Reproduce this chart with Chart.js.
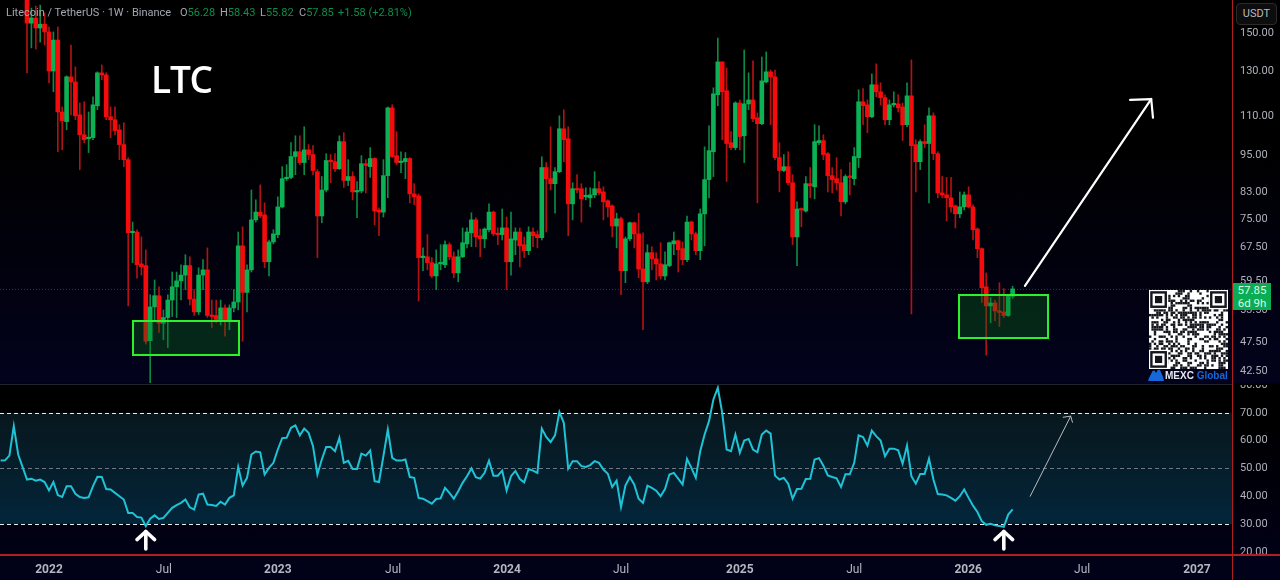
<!DOCTYPE html>
<html>
<head>
<meta charset="utf-8">
<title>LTC weekly</title>
<script src="https://cdn.jsdelivr.net/npm/chart.js@4"></script>
<style>
  html, body { margin: 0; padding: 0; background: #000; }
  #stage { position: relative; width: 1280px; height: 580px; overflow: hidden; font-family: Roboto, sans-serif;
    background: linear-gradient(#000 0, #000 25%, #02021c 66%, #000 66.3%, #000 72%, #01011a 100%); }
  canvas { position: absolute; left: 0; }
  #pricePane { top: 0; }
  #rsiPane { top: 385px; }
  .rule { position: absolute; background: #b01f1f; }
  #sep { position: absolute; left: 0; top: 384px; width: 1232px; height: 1px; background: #20242f; }
  .legend { position: absolute; top: 6px; font-size: 11px; line-height: 14px; color: #a3a7b0; white-space: pre; }
  .legend b { font-weight: 400; color: #0c8f4c; }
  #ltc { position: absolute; left: 151px; top: 55px; font: 600 37px "Open Sans", sans-serif; letter-spacing: -1.2px; color: #fff; line-height: 48px; }
  #unit { position: absolute; left: 1236px; top: 3px; width: 41px; height: 22px; box-sizing: border-box; border: 1px solid #2b2b2b; border-radius: 4px;
    background: #0d0d0d; color: #b8bbc2; font-size: 11px; line-height: 20px; text-align: center; }
  #badge { position: absolute; left: 1233px; top: 283px; width: 38px; height: 27px; background: #0bad54; color: #def7e8; font-size: 11.5px; line-height: 13px; text-align: center; padding-top: 1px; box-sizing: border-box; }
  #qr { left: 1149px; top: 290px; }
  #brand { position: absolute; left: 1165px; top: 369px; font: 700 10px/13px "Liberation Sans", sans-serif; color: #e6e8ee; white-space: pre; }
  #brand span { color: #1668d8; }
  #cloud { position: absolute; left: 1148px; top: 369px; }
</style>
</head>
<body>
<div id="stage">
  <canvas id="pricePane" width="1280" height="384"></canvas>
  <div id="sep"></div>
  <canvas id="rsiPane" width="1280" height="195"></canvas>
  <div class="rule" style="left:1232px;top:0;width:1px;height:580px"></div>
  <div class="rule" style="left:0;top:554px;width:1280px;height:2px"></div>
  <div class="legend" style="left:6px">Litecoin / TetherUS · 1W · Binance</div>
  <div class="legend" style="left:180px">O<b>56.28</b></div>
  <div class="legend" style="left:220px">H<b>58.43</b></div>
  <div class="legend" style="left:260px">L<b>55.82</b></div>
  <div class="legend" style="left:299px">C<b>57.85</b></div>
  <div class="legend" style="left:338px"><b>+1.58 (+2.81%)</b></div>
  <div id="ltc">LTC</div>
  <div id="unit">USDT</div>
  <div id="badge">57.85<br>6d 9h</div>
  <canvas id="qr" width="79" height="79"></canvas>
  <svg id="cloud" width="16" height="12" viewBox="0 0 16 12"><path d="M0 12 L1 9 L4.5 2 L6.5 1.5 L8 4 L10 0.5 L12 1 L15 8 L16 12 Z" fill="#1668d8"/></svg>
  <div id="brand">MEXC <span>Global</span></div>
</div>
<script>
// weekly candles, first entry is the first one visible at the top left
const openPrices = [
  176.0,155.6,158.6,152.8,155.0,150.6,130.2,146.1,111.8,107.8,
  127.4,125.0,110.6,102.7,101.2,101.6,114.4,129.3,128.3,109.8,
  108.6,104.6,99.0,93.6,71.3,71.5,63.5,63.1,47.7,54.1,
  56.4,50.9,52.0,55.5,58.3,59.6,60.9,63.1,55.7,53.1,
  60.9,62.1,52.4,52.4,51.6,53.9,51.4,53.9,55.1,67.9,
  57.1,62.1,74.8,77.0,76.2,64.0,68.9,70.8,78.5,87.2,
  87.6,94.7,96.4,92.6,97.1,95.4,89.5,75.9,83.6,93.3,
  92.9,90.5,100.1,86.6,87.9,83.0,83.3,92.2,91.2,94.0,
  77.6,77.0,88.2,113.5,95.0,92.6,92.9,94.0,82.4,81.8,
  65.0,65.2,63.8,60.7,63.5,63.3,68.2,65.2,61.4,65.2,
  68.4,71.3,74.8,70.5,69.7,72.1,77.0,71.0,70.8,72.6,
  64.0,69.4,71.5,68.2,66.7,71.5,70.8,70.0,90.9,87.2,
  85.6,89.5,105.0,101.2,79.4,84.0,84.0,81.5,81.2,82.1,
  84.0,83.0,80.3,78.8,73.1,75.1,61.9,69.7,74.0,71.0,
  62.3,59.4,66.2,64.7,63.5,60.7,63.1,68.4,69.2,67.2,
  64.5,74.2,71.0,66.7,76.5,86.9,96.4,119.2,134.7,121.0,
  99.7,97.9,115.6,102.3,115.2,116.9,109.4,107.0,125.0,129.8,
  127.4,94.3,89.9,91.2,85.9,70.2,77.9,77.3,85.6,84.6,
  99.7,100.5,95.7,88.2,87.2,85.9,80.0,87.9,87.2,94.3,
  116.1,114.8,109.8,123.7,120.5,117.9,108.6,114.8,115.2,113.9,
  106.6,118.7,99.0,92.9,100.1,99.4,110.2,95.7,82.7,82.1,
  81.2,78.8,76.5,78.5,82.1,78.5,72.3,67.2,58.3,54.3,
  54.9,53.3,53.1,52.4,56.28];
const highPrices = [
  180.0,164.6,165.8,166.4,161.6,153.4,150.6,153.4,113.9,127.9,
  143.4,132.2,115.6,116.1,111.8,118.3,129.8,133.2,129.3,113.9,
  113.9,106.6,107.4,94.3,74.2,72.1,70.2,66.9,56.6,59.8,
  58.3,53.5,56.6,61.6,61.6,63.3,65.7,65.2,57.7,62.6,
  64.5,67.4,55.5,55.5,55.5,54.5,54.5,57.7,71.5,72.9,
  63.3,83.6,80.6,85.2,79.7,69.4,72.1,81.5,91.2,91.9,
  99.7,102.3,102.3,105.8,99.0,98.6,90.2,87.9,95.7,95.4,
  95.7,102.3,103.5,93.6,89.5,86.3,95.0,93.6,97.9,94.3,
  78.2,93.6,113.9,114.8,103.9,96.4,96.1,94.3,85.6,82.4,
  67.4,70.8,65.0,66.9,68.2,69.2,68.7,66.4,66.9,72.6,
  72.6,76.8,75.4,72.3,72.6,79.4,77.3,72.6,77.9,75.6,
  77.0,72.6,72.6,70.2,72.9,72.6,71.8,94.6,92.6,105.8,
  90.9,110.2,112.7,105.8,85.9,88.5,85.6,84.3,84.3,89.5,
  86.3,84.6,80.6,79.1,76.7,75.6,70.2,74.2,74.2,76.7,
  71.3,68.2,67.7,66.2,68.7,66.4,68.9,71.5,69.4,68.9,
  75.9,74.5,71.5,77.9,98.2,106.2,122.3,147.2,134.7,131.7,
  103.9,116.1,116.9,140.8,129.3,135.2,111.4,137.2,139.8,130.7,
  130.7,99.7,95.4,96.4,88.5,80.0,78.2,87.9,90.9,106.6,
  106.2,102.7,96.1,90.9,94.3,90.2,88.5,92.6,97.9,121.4,
  121.9,116.9,128.8,133.7,124.6,119.2,116.9,120.5,119.2,115.6,
  124.6,135.7,100.8,100.8,106.6,113.5,111.4,96.4,87.9,87.6,
  87.6,79.1,83.0,83.0,84.6,79.1,72.6,67.4,61.4,56.0,
  55.5,59.2,57.9,56.6,58.43];
const lowPrices = [
  129.3,141.9,141.3,145.0,143.4,124.6,120.5,96.4,97.1,104.6,
  110.6,108.6,90.2,99.7,96.1,100.8,112.7,126.0,108.6,101.6,
  102.7,93.6,91.2,54.3,63.8,60.2,60.9,47.1,40.8,51.6,
  49.2,47.9,46.5,52.2,52.0,55.5,57.7,54.5,52.4,52.6,
  57.7,52.0,50.1,51.0,50.6,48.5,49.7,53.1,53.5,47.6,
  53.1,61.6,74.2,75.4,62.6,60.7,68.4,70.0,78.2,86.6,
  87.2,88.5,91.9,88.5,93.6,88.5,65.0,74.0,83.0,85.9,
  89.5,90.2,84.4,85.0,80.6,75.4,82.7,82.7,87.6,73.4,
  70.5,75.6,81.2,94.3,91.9,89.2,87.2,79.7,79.2,55.3,
  61.9,62.1,60.3,57.7,62.1,62.6,64.5,60.3,59.4,65.0,
  67.4,67.7,67.7,65.2,67.4,71.5,70.5,68.2,69.4,57.7,
  60.9,65.7,62.8,65.0,65.7,67.7,67.4,69.4,71.5,83.6,
  76.7,89.2,92.9,70.5,74.8,82.7,74.2,80.6,78.5,81.2,
  82.1,74.8,75.6,70.2,67.4,56.6,59.2,69.2,67.4,60.3,
  49.7,59.0,62.1,59.8,60.0,59.8,62.8,65.7,61.6,63.3,
  64.0,69.4,65.7,64.5,67.9,81.2,87.9,114.4,100.8,86.3,
  97.1,97.1,97.1,92.6,112.7,107.8,79.7,106.6,124.6,106.6,
  93.6,83.0,89.5,85.2,68.2,63.1,72.9,77.0,81.2,80.9,
  99.0,93.6,83.0,82.7,83.6,75.9,79.4,82.1,85.2,90.9,
  106.6,103.5,109.4,118.3,114.8,106.6,106.6,113.9,111.8,100.5,
  105.8,52.7,83.0,90.2,97.9,79.7,93.6,81.2,81.2,74.5,
  77.0,72.6,75.4,77.6,78.2,69.4,65.0,55.0,45.2,51.0,
  51.4,50.3,52.0,52.2,55.82];
const closePrices = [
  155.6,158.6,152.8,155.0,150.6,130.2,146.1,111.8,108.2,127.4,
  125.0,110.2,102.7,100.8,101.6,114.8,129.3,128.3,109.8,108.6,
  104.3,99.0,93.6,71.3,71.5,63.3,62.8,47.6,54.1,56.4,
  50.9,52.0,55.5,58.3,59.6,60.9,63.1,55.7,53.1,60.9,
  62.1,52.4,52.2,51.6,53.9,51.2,53.9,55.1,67.9,57.1,
  62.1,74.8,77.0,75.9,64.0,68.9,71.0,78.5,87.2,87.6,
  94.7,96.4,92.6,97.1,95.4,89.9,75.9,83.6,93.3,92.9,
  90.5,100.1,86.6,87.9,83.0,83.3,92.2,91.6,94.0,77.3,
  77.0,88.2,113.5,94.7,92.6,92.9,94.0,82.4,81.5,65.0,
  65.2,63.8,60.7,63.5,63.6,68.2,65.2,61.4,65.2,68.7,
  71.5,74.8,70.2,69.7,72.3,77.0,71.0,70.8,72.6,64.0,
  69.7,71.5,67.9,66.7,71.5,70.5,70.0,90.9,87.2,85.6,
  89.5,105.0,100.8,79.4,84.0,83.6,80.9,81.8,82.1,84.0,
  82.7,80.0,78.5,73.1,75.1,61.9,69.7,74.0,71.0,62.3,
  59.4,66.2,64.7,63.5,60.7,63.3,68.7,69.2,66.9,64.5,
  74.2,71.0,66.7,76.5,86.9,96.8,119.6,134.7,120.5,99.4,
  97.9,115.6,102.0,115.2,116.9,109.0,107.0,125.5,129.8,127.4,
  94.3,89.9,91.2,85.9,70.2,77.9,77.6,85.6,84.9,100.1,
  100.5,95.4,88.2,86.9,85.9,80.0,87.9,87.6,94.7,116.1,
  114.4,109.8,123.7,120.5,117.9,108.6,114.8,115.2,113.5,106.6,
  118.7,98.6,92.9,100.1,99.4,110.2,95.7,82.7,82.1,81.2,
  78.5,76.5,78.5,82.1,78.5,72.1,67.2,58.1,54.3,54.9,
  53.3,53.0,52.4,56.26,57.85];

// RSI starts a few weeks before the first visible candle
const RSI_FIRST_WEEK = -6;
const rsiValues = [
  52.8,52.9,54.6,65.2,55.0,50.5,
  46.0,46.3,45.6,46.0,45.1,42.1,45.1,40.4,39.7,43.6,
  43.6,40.9,39.7,39.4,39.6,43.6,47.0,46.9,42.6,42.4,
  41.2,40.0,38.8,34.0,34.0,32.5,32.3,29.2,31.9,33.1,
  31.8,32.2,34.0,35.8,36.8,37.6,38.8,36.0,35.2,40.6,
  40.9,37.0,36.8,36.5,38.0,37.0,39.4,40.3,50.5,43.8,
  46.6,55.0,56.1,55.8,47.8,50.2,52.0,56.8,60.9,61.0,
  64.6,65.5,61.9,64.3,62.8,58.0,47.8,53.2,57.7,57.7,
  56.2,61.0,52.0,52.7,49.8,49.8,55.3,54.6,56.4,45.4,
  45.1,54.4,64.0,53.8,52.8,52.8,53.2,46.9,46.6,39.4,
  39.1,38.2,37.3,39.0,39.2,43.0,41.2,39.1,41.8,44.8,
  47.2,50.0,46.8,46.3,48.4,52.8,47.4,47.4,49.2,42.0,
  47.2,49.1,46.2,45.0,49.8,49.2,48.4,64.3,61.3,59.5,
  61.9,70.3,66.4,49.9,52.6,52.6,50.8,50.5,51.2,52.6,
  52.0,49.6,48.1,43.3,45.6,36.1,43.8,46.9,44.2,39.1,
  37.6,43.8,43.0,42.0,40.0,42.6,47.8,48.4,46.3,44.2,
  53.4,50.2,46.6,56.2,62.2,67.0,74.8,79.0,70.0,56.8,
  56.2,62.2,55.6,60.0,60.6,56.8,55.8,62.2,63.6,62.5,
  47.4,46.0,46.6,44.5,39.1,42.6,42.7,46.2,46.3,53.2,
  53.7,51.0,47.5,46.9,46.4,43.3,47.9,47.9,52.0,61.9,
  61.3,58.2,63.6,61.6,60.0,54.4,57.1,57.1,56.5,51.7,
  58.2,47.2,44.5,48.0,48.0,53.5,46.0,40.8,40.6,40.3,
  39.4,38.4,40.0,42.4,39.4,36.6,34.3,31.0,29.7,30.1,
  29.5,29.3,29.0,33.4,35.3];

const priceTicks = [150, 130, 110, 95, 83, 75, 67.5, 59.5, 53.5, 47.5, 42.5];
const rsiTicks = [80, 70, 60, 50, 40, 30, 20];
const timeTickWeeks = [5, 31.1, 57, 83.2, 109.1, 135, 162, 188, 213.9, 239.8, 265.9];
const timeTickLabels = ["2022", "Jul", "2023", "Jul", "2024", "Jul", "2025", "Jul", "2026", "Jul", "2027"];

const LAST_PRICE = 57.85;
// support zones: [fromWeek, toWeek, topPrice, bottomPrice]
const zones = [[24.1, 48.2, 51.4, 45.3], [211.8, 232, 56.6, 48.2]];
// drawn arrows, as polylines of [week, value]
const priceArrow = [[[226.8, 58.5], [255.5, 117.3]], [[250.7, 116.9], [255.5, 117.3], [255.9, 109.4]]];
const rsiArrow = [[[228, 40], [237.2, 68.8]], [[235.5, 68.4], [237.2, 68.8], [237.6, 66.6]]];
const bottomMarkers = [27, 222];

const WEEK_MIN = -6.136, WEEK_MAX = 273.86;
const GREEN = "#0bb154", RED = "#f40c0c", GREEN_WICK = "#0c8a45", RED_WICK = "#b31212";

const candleWeeks = openPrices.map((_, i) => i);
const isUp = candleWeeks.map((i) => closePrices[i] >= openPrices[i]);

function rightAxis(values, extra) {
  return Object.assign({
    position: "right",
    afterBuildTicks: (s) => { s.ticks = values.map((v) => ({ value: v })); },
    afterFit: (s) => { s.width = 48; s.paddingTop = 0; s.paddingBottom = 0; },
    grid: { display: false, drawTicks: false },
    border: { display: false },
    ticks: {
      autoSkip: false, padding: 8, color: "#aeb1ba",
      font: { family: "Roboto", size: 11 },
      callback: (v) => Number(v).toFixed(2),
    },
  }, extra);
}

function polylines(chart, yId, lines, color, width) {
  const { ctx, scales } = chart;
  ctx.save();
  ctx.strokeStyle = color;
  ctx.lineWidth = width;
  ctx.lineCap = "round";
  ctx.lineJoin = "round";
  for (const line of lines) {
    ctx.beginPath();
    line.forEach(([w, v], i) => {
      const x = scales.x.getPixelForValue(w), y = scales[yId].getPixelForValue(v);
      if (i === 0) ctx.moveTo(x, y); else ctx.lineTo(x, y);
    });
    ctx.stroke();
  }
  ctx.restore();
}

const priceOverlay = {
  id: "priceOverlay",
  beforeDatasetsDraw(chart) {
    const { ctx, scales, chartArea } = chart;
    const y = scales.y.getPixelForValue(LAST_PRICE);
    ctx.save();
    ctx.strokeStyle = "#1d4a33";
    ctx.setLineDash([1, 2]);
    ctx.beginPath();
    ctx.moveTo(0, y + 0.5);
    ctx.lineTo(chartArea.right, y + 0.5);
    ctx.stroke();
    ctx.restore();
  },
  afterDatasetsDraw(chart) {
    const { ctx, scales } = chart;
    ctx.save();
    for (const [a, b, top, bottom] of zones) {
      const x0 = Math.round(scales.x.getPixelForValue(a)), x1 = Math.round(scales.x.getPixelForValue(b));
      const y0 = Math.round(scales.y.getPixelForValue(top)), y1 = Math.round(scales.y.getPixelForValue(bottom));
      ctx.fillStyle = "rgba(8,110,30,0.34)";
      ctx.fillRect(x0, y0, x1 - x0, y1 - y0);
      ctx.strokeStyle = "#2df02d";
      ctx.lineWidth = 2;
      ctx.strokeRect(x0, y0, x1 - x0, y1 - y0);
    }
    ctx.restore();
    polylines(chart, "y", priceArrow, "#ffffff", 2.2);
  },
};

new Chart(document.getElementById("pricePane"), {
  type: "bar",
  data: {
    datasets: [
      {
        data: candleWeeks.map((i) => ({ x: i, y: [lowPrices[i], highPrices[i]] })),
        backgroundColor: isUp.map((u) => (u ? GREEN_WICK : RED_WICK)),
        barThickness: 1,
        grouped: false,
        order: 2,
      },
      {
        data: candleWeeks.map((i) => ({ x: i, y: [openPrices[i], closePrices[i]] })),
        backgroundColor: isUp.map((u) => (u ? GREEN : RED)),
        barThickness: 4,
        minBarLength: 1.5,
        grouped: false,
        order: 1,
      },
    ],
  },
  options: {
    responsive: false,
    animation: false,
    devicePixelRatio: 1,
    layout: { padding: 0 },
    plugins: { legend: { display: false }, tooltip: { enabled: false } },
    scales: {
      x: { type: "linear", display: false, offset: false, min: WEEK_MIN, max: WEEK_MAX },
      y: rightAxis(priceTicks, { type: "logarithmic", min: 40.6, max: 169.6 }),
    },
  },
  plugins: [priceOverlay],
});

const rsiOverlay = {
  id: "rsiOverlay",
  beforeDatasetsDraw(chart) {
    const { ctx, scales, chartArea } = chart;
    const y70 = scales.y.getPixelForValue(70), y50 = scales.y.getPixelForValue(50), y30 = scales.y.getPixelForValue(30);
    const band = ctx.createLinearGradient(0, y70, 0, y30);
    band.addColorStop(0, "#08171d");
    band.addColorStop(1, "#03253a");
    ctx.save();
    ctx.fillStyle = band;
    ctx.fillRect(0, y70, chartArea.right, y30 - y70);
    ctx.setLineDash([4, 3]);
    ctx.lineWidth = 1;
    ctx.strokeStyle = "#e8eaee";
    for (const y of [y70, y30]) {
      ctx.beginPath();
      ctx.moveTo(0, Math.round(y) + 0.5);
      ctx.lineTo(chartArea.right, Math.round(y) + 0.5);
      ctx.stroke();
    }
    ctx.strokeStyle = "#6f7780";
    ctx.beginPath();
    ctx.moveTo(0, Math.round(y50) + 0.5);
    ctx.lineTo(chartArea.right, Math.round(y50) + 0.5);
    ctx.stroke();
    ctx.restore();
  },
  afterDatasetsDraw(chart) {
    polylines(chart, "y", rsiArrow, "#b9bdc2", 1);
    // little white arrows under the two RSI lows
    const marks = bottomMarkers.map((w) => [
      [[w, 27.3], [w, 21]],
      [[w - 2, 24.4], [w, 27.3], [w + 2, 24.4]],
    ]).flat();
    polylines(chart, "y", marks, "#ffffff", 3.6);
  },
  afterDraw(chart) {
    // the "20.00" label gets cut by the time axis strip in the original
    const { ctx, chartArea, width, height } = chart;
    ctx.save();
    ctx.fillStyle = "#01011a";
    ctx.fillRect(chartArea.right, chartArea.bottom, width - chartArea.right, height - chartArea.bottom);
    ctx.restore();
  },
};

new Chart(document.getElementById("rsiPane"), {
  type: "line",
  data: {
    datasets: [{
      data: rsiValues.map((v, i) => ({ x: i + RSI_FIRST_WEEK, y: v })),
      borderColor: "#1fc3d6",
      borderWidth: 2,
      pointRadius: 0,
      tension: 0,
    }],
  },
  options: {
    responsive: false,
    animation: false,
    devicePixelRatio: 1,
    layout: { padding: 0 },
    plugins: { legend: { display: false }, tooltip: { enabled: false } },
    scales: {
      x: {
        type: "linear",
        min: WEEK_MIN,
        max: WEEK_MAX,
        afterBuildTicks: (s) => { s.ticks = timeTickWeeks.map((v) => ({ value: v })); },
        afterFit: (s) => { s.height = 25; s.paddingLeft = 0; s.paddingRight = 0; },
        grid: { display: false, drawTicks: false },
        border: { display: false },
        ticks: {
          autoSkip: false, maxRotation: 0, padding: 8, color: "#b4b7c0",
          font: (c) => ({ family: "Roboto", size: 12, weight: /^\d/.test(timeTickLabels[c.index]) ? "700" : "400" }),
          callback: (v, i) => timeTickLabels[i],
        },
      },
      y: rightAxis(rsiTicks, { type: "linear", min: 18.85, max: 80 }),
    },
  },
  plugins: [rsiOverlay],
});

// sponsor QR block, decoration only
(function drawQr() {
  const ctx = document.getElementById("qr").getContext("2d");
  const n = 33, cell = 79 / n;
  ctx.fillStyle = "#fff";
  ctx.fillRect(0, 0, 79, 79);
  ctx.fillStyle = "#14161c";
  for (let r = 0; r < n; r++) {
    for (let c = 0; c < n; c++) {
      let h = (r * 73856093) ^ (c * 19349663) ^ (r * c * 83492791);
      h = (h ^ (h >>> 13)) >>> 0;
      if (h % 9 < 4) ctx.fillRect(c * cell, r * cell, cell, cell);
    }
  }
  for (const [r, c] of [[0, 0], [0, n - 8], [n - 8, 0]]) {
    ctx.fillStyle = "#fff";
    ctx.fillRect(c * cell, r * cell, 8 * cell, 8 * cell);
    ctx.fillStyle = "#14161c";
    ctx.fillRect((c + 0.5) * cell, (r + 0.5) * cell, 7 * cell, 7 * cell);
    ctx.fillStyle = "#fff";
    ctx.fillRect((c + 1.5) * cell, (r + 1.5) * cell, 5 * cell, 5 * cell);
    ctx.fillStyle = "#14161c";
    ctx.fillRect((c + 2.5) * cell, (r + 2.5) * cell, 3 * cell, 3 * cell);
  }
})();
</script>
</body>
</html>
